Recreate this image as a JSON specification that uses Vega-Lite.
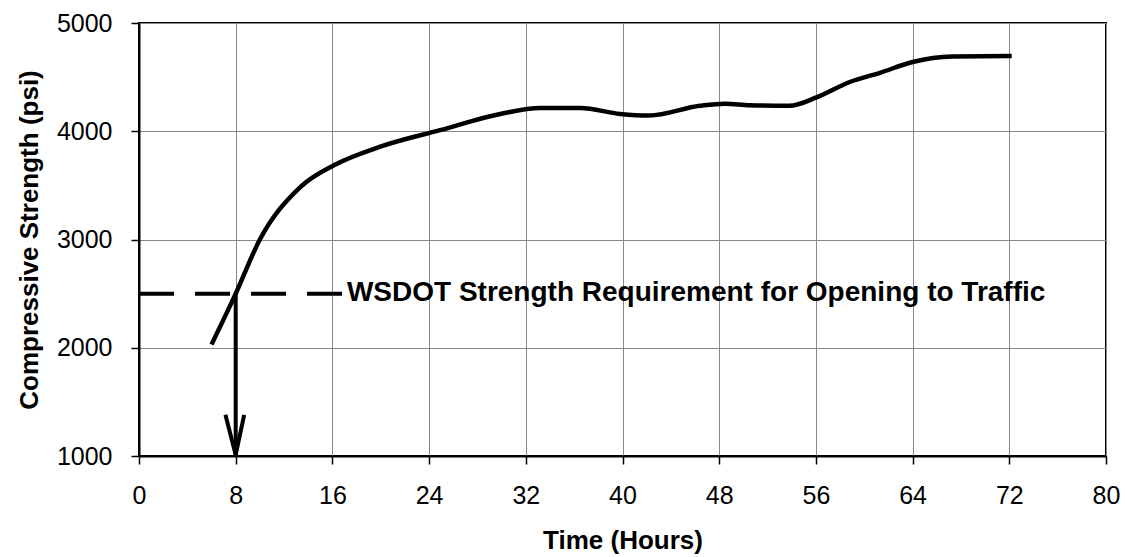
{
  "$schema": "https://vega.github.io/schema/vega-lite/v6.json",
  "width": 967,
  "height": 433,
  "autosize": {"type": "none"},
  "padding": {"left": 139, "top": 23, "right": 19, "bottom": 101},
  "background": "white",
  "config": {
    "font": "Liberation Sans",
    "view": {"stroke": "black", "strokeWidth": 2},
    "axis": {
      "domainColor": "black",
      "domainWidth": 2,
      "tickColor": "black",
      "tickWidth": 1.5,
      "tickSize": 8,
      "gridColor": "#888888",
      "gridWidth": 1,
      "labelFont": "Liberation Sans",
      "labelFontSize": 25,
      "labelColor": "black",
      "titleFont": "Liberation Sans",
      "titleFontSize": 26,
      "titleFontWeight": "bold",
      "titleColor": "black"
    }
  },
  "layer": [
    {
      "data": {"values": [
        {"h": 6, "psi": 2030},
        {"h": 8, "psi": 2500},
        {"h": 10, "psi": 3000},
        {"h": 13.3, "psi": 3480},
        {"h": 16.2, "psi": 3690},
        {"h": 19.9, "psi": 3855},
        {"h": 24.9, "psi": 4010},
        {"h": 29.9, "psi": 4160},
        {"h": 33.2, "psi": 4215},
        {"h": 36.5, "psi": 4215},
        {"h": 39.8, "psi": 4160},
        {"h": 42.2, "psi": 4145},
        {"h": 46.4, "psi": 4235},
        {"h": 48.5, "psi": 4255},
        {"h": 50.5, "psi": 4240},
        {"h": 53.8, "psi": 4235},
        {"h": 56.1, "psi": 4315},
        {"h": 58.8, "psi": 4455},
        {"h": 61.3, "psi": 4540},
        {"h": 64, "psi": 4640},
        {"h": 67.3, "psi": 4690},
        {"h": 72.2, "psi": 4695}
      ]},
      "mark": {"type": "line", "color": "black", "strokeWidth": 4.5, "interpolate": "monotone", "strokeCap": "butt"},
      "encoding": {
        "x": {
          "field": "h", "type": "quantitative",
          "scale": {"domain": [0, 80], "nice": false, "zero": false},
          "axis": {
            "values": [0, 8, 16, 24, 32, 40, 48, 56, 64, 72, 80],
            "labelPadding": 19,
            "title": "Time (Hours)",
            "titlePadding": 19,
            "labelFlush": false
          }
        },
        "y": {
          "field": "psi", "type": "quantitative",
          "scale": {"domain": [1000, 5000], "nice": false, "zero": false},
          "axis": {
            "values": [1000, 2000, 3000, 4000, 5000],
            "format": "d",
            "labelPadding": 19,
            "title": "Compressive Strength (psi)",
            "titlePadding": 14,
            "labelFlush": false
          }
        }
      }
    },
    {
      "data": {"values": [{"h": 0, "psi": 2500}, {"h": 17, "psi": 2500}]},
      "mark": {"type": "line", "color": "black", "strokeWidth": 4, "strokeDash": [35, 21]},
      "encoding": {
        "x": {"field": "h", "type": "quantitative"},
        "y": {"field": "psi", "type": "quantitative"}
      }
    },
    {
      "data": {"values": [
        {"seg": "shaft", "h": 8, "psi": 2500},
        {"seg": "shaft", "h": 8, "psi": 1000},
        {"seg": "head", "h": 7.15, "psi": 1380},
        {"seg": "head", "h": 8, "psi": 1010},
        {"seg": "head", "h": 8.7, "psi": 1380}
      ]},
      "mark": {"type": "line", "color": "black", "strokeWidth": 4, "strokeJoin": "miter"},
      "encoding": {
        "x": {"field": "h", "type": "quantitative"},
        "y": {"field": "psi", "type": "quantitative"},
        "detail": {"field": "seg"},
        "order": {"field": "h"}
      }
    },
    {
      "data": {"values": [{"h": 17.2, "psi": 2500, "label": "WSDOT Strength Requirement for Opening to Traffic"}]},
      "mark": {"type": "text", "align": "left", "baseline": "middle", "fontSize": 28, "fontWeight": "bold", "font": "Liberation Sans", "color": "black", "dy": -1},
      "encoding": {
        "x": {"field": "h", "type": "quantitative"},
        "y": {"field": "psi", "type": "quantitative"},
        "text": {"field": "label"}
      }
    }
  ]
}
